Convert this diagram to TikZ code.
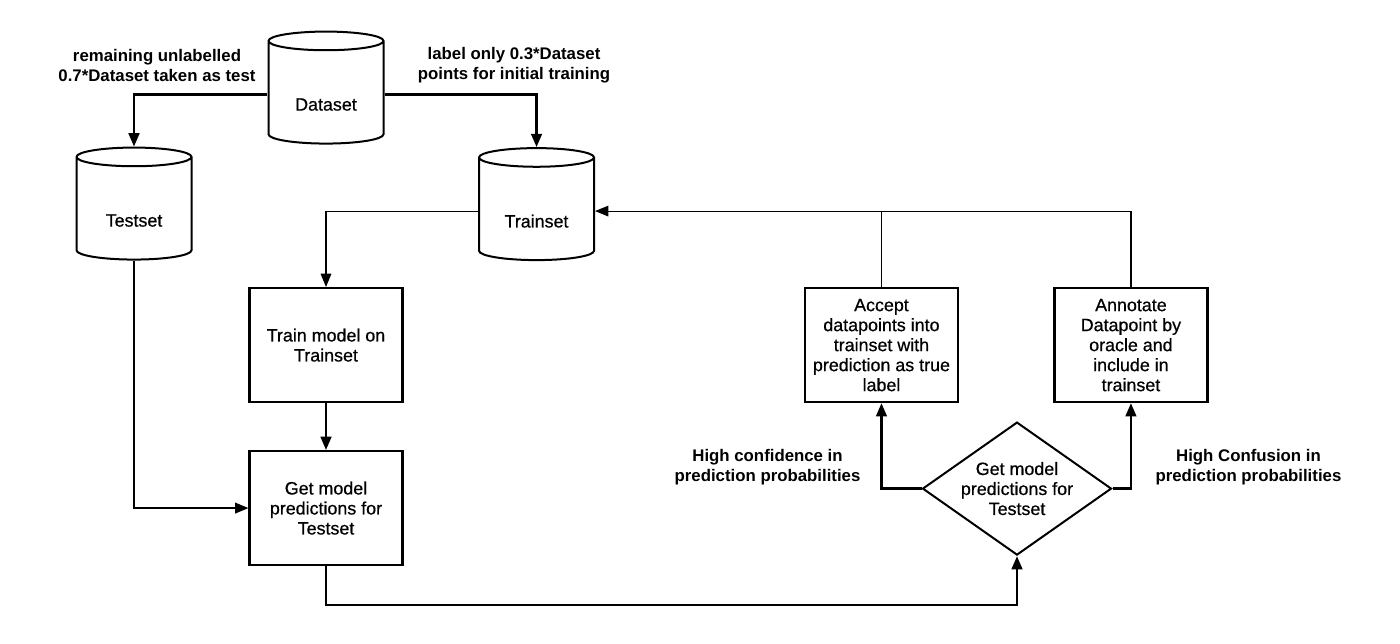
\documentclass[tikz,border=0pt]{standalone}
\usepackage{fontspec}
\setmainfont{Liberation Sans}
\newfontfamily\boxfont{Liberation Sans}[FakeBold=0.6]
\usepackage{tikz}
\usetikzlibrary{shapes.geometric,arrows.meta,positioning}
\tikzset{
     arrow/.style={-{Triangle[length=10pt,width=8pt]}},
     txt/.style={font=\boxfont\fontsize{13.4pt}{15pt}\selectfont, align=center},
     note/.style={font=\bfseries\fontsize{12.6pt}{15pt}\selectfont, align=center, inner sep=0pt}
     }

\begin{document}
\begin{tikzpicture}[on grid]
\tikzstyle{block} = [rectangle, draw, line width=1.6pt, minimum width=114.75pt,
minimum height=85.5pt, inner sep=2pt, txt]
\tikzstyle{db} = [cylinder, shape border rotate=90, aspect=2.1, draw, line width=1.5pt,
minimum width=86.25pt, minimum height=84pt]
\tikzstyle{dbtext} = [txt, yshift=-7.5pt]
\tikzstyle{decision} = [diamond, draw, line width=1.5pt, minimum width=141.75pt,
minimum height=99.75pt, inner sep=0pt]
\tikzstyle{line} = [draw, line width=1.9pt, arrow]
\tikzstyle{midline} = [draw, line width=1.3pt]
\tikzstyle{thinline} = [draw, line width=0.8pt]

\useasboundingbox (0pt,0pt) rectangle (1050pt,-482.25pt);

\node [db, label={[dbtext]center:Dataset}] (data) at (244.5pt,-70.9pt) {};
\node [db, below left=87pt and 144pt of data, label={[dbtext]center:Testset}] (test) {};
\node [db, below right=87.4pt and 157.9pt of data, label={[dbtext]center:Trainset}] (train) {};

\node [block, below=187.9pt of data] (fit) {Train model on\\Trainset};
\node [block, below=122.25pt of fit] (pred) {Get model\\predictions for\\Testset};
\node [block, right=416.6pt of fit] (acc) {Accept\\datapoints into\\trainset with\\prediction as true\\label};
\node [block, right=187.1pt of acc] (ann) {Annotate\\Datapoint by\\oracle and\\include in\\trainset};

\node [decision, above right=14.6pt and 518.25pt of pred,
label={[txt]center:Get model\\predictions for\\Testset}] (dia) {};

\coordinate [below=29.25pt of pred.south] (bot);
\coordinate (top) at (ann.north |- train.east);

\node [note, above left=22.1pt and 126.75pt of data] (rest) {remaining unlabelled\\0.7*Dataset taken as test};
\node [note, above right=22.1pt and 141pt of data] (init) {label only 0.3*Dataset\\points for initial training};
\node [note, above left=16.1pt and 187.1pt of dia] (conf) {High confidence in\\prediction probabilities};
\node [note, above right=16.1pt and 173.6pt of dia] (cnfs) {High Confusion in\\prediction probabilities};

%Lines
\draw[line] (data.west) -| (test.north);
\draw[line] (data.east) -| (train.north);
\draw[thinline, arrow] (train.west) -| (fit.north);
\draw[line] (fit.south) -- (pred.north);
\draw[midline, arrow] (test.south) |- (pred.west);
\draw[line] (pred.south) -- (bot) -| (dia.south);
\draw[line] (dia.west) -| (acc.south);
\draw[line] (dia.east) -| (ann.south);
\draw[thinline] (acc.north) -- (acc.north |- train.east);
\draw[line width=1.9pt] (ann.north) -- (top);
\draw[thinline, arrow] (top) -- (train.east);
\end{tikzpicture}
\end{document}
